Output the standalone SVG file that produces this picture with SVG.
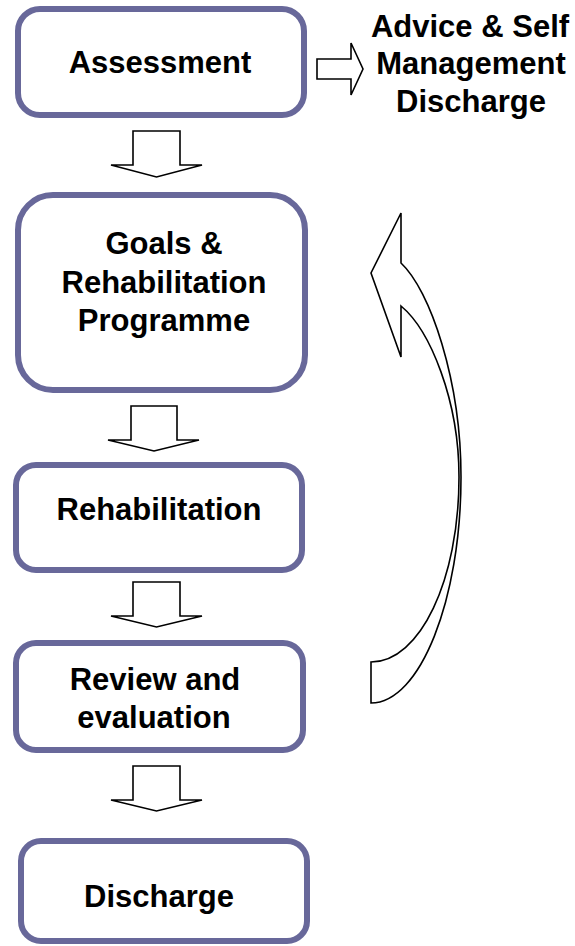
<svg xmlns="http://www.w3.org/2000/svg" width="575" height="946" viewBox="0 0 575 946">
<style>
.box{fill:#fff;stroke:#68689a;stroke-width:6}
.t{font-family:"Liberation Sans",Arial,sans-serif;font-weight:bold;font-size:31px;fill:#000;text-anchor:middle}
.arr{fill:#fff;stroke:#000;stroke-width:1.6;stroke-linejoin:miter}
</style>
<rect width="575" height="946" fill="#fff"/>
<g id="assessment">
<rect class="box" x="18" y="9" width="286" height="106" rx="22"/>
<text class="t" x="160" y="73">Assessment</text>
</g>
<g id="advice">
<text class="t" x="470" y="37">Advice &amp; Self</text>
<text class="t" x="471" y="74">Management</text>
<text class="t" x="471" y="112">Discharge</text>
</g>
<g id="goals">
<rect class="box" x="18" y="195" width="287" height="195" rx="35"/>
<text class="t" x="164" y="254">Goals &amp;</text>
<text class="t" x="164" y="293">Rehabilitation</text>
<text class="t" x="164" y="331">Programme</text>
</g>
<g id="rehabilitation">
<rect class="box" x="16" y="465" width="286" height="105" rx="20"/>
<text class="t" x="159" y="520">Rehabilitation</text>
</g>
<g id="review">
<rect class="box" x="16" y="643" width="287" height="107" rx="20"/>
<text class="t" x="155" y="690">Review and</text>
<text class="t" x="154" y="728">evaluation</text>
</g>
<g id="discharge">
<rect class="box" x="21" y="841" width="286" height="100" rx="20"/>
<text class="t" x="159" y="907">Discharge</text>
</g>
<g id="connectors">
<polygon class="arr" points="317,59 351,59 351,43 363,69 351,95 351,79 317,79"/>
<polygon class="arr" points="133,131 180,131 180,165 202,165 156.5,177 111,165 133,165"/>
<polygon class="arr" points="131,406 177,406 177,440 199,440 154,451 108,440 131,440"/>
<polygon class="arr" points="133,582 180,582 180,616 202,616 156.5,627 111,616 133,616"/>
<polygon class="arr" points="133,766 180,766 180,800 202,800 156.5,811 111,800 133,800"/>
<path class="arr" d="M401,213 L371,273 L401,357 L401,306 C430,330 459,400 459,477 C459,580 420,662 371,662 L371,703 C420,703 461,600 461,477 C461,380 430,290 401,263 Z"/>
</g>
</svg>
